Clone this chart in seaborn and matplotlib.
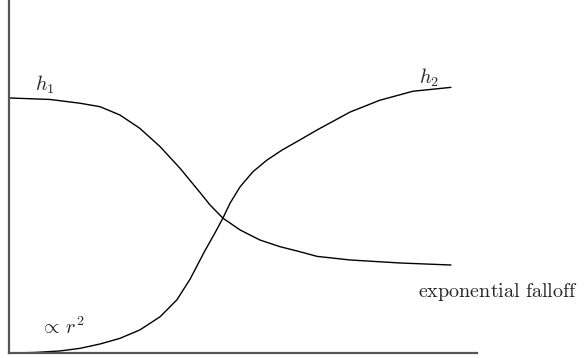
import numpy as np
import pandas as pd
import matplotlib
matplotlib.use("Agg")
import matplotlib.pyplot as plt
import seaborn as sns

# data
h1_x = [0, 0.93, 1.61, 2.06, 2.51, 2.96, 3.42, 3.87, 4.32, 4.55, 4.84, 5.23, 5.68, 6.13, 6.58,
        6.97, 7.72, 8.85, 10.0]
h1_y = [2.89, 2.873, 2.83, 2.791, 2.697, 2.546, 2.338, 2.093, 1.82, 1.677, 1.528, 1.394, 1.28,
        1.205, 1.148, 1.095, 1.054, 1.02, 0.997]
h2_x = [0, 0.59, 1.15, 1.61, 2.06, 2.51, 2.96, 3.42, 3.80, 4.10, 4.43, 4.66, 4.84, 5.0, 5.23,
        5.52, 5.84, 6.18, 6.58, 6.97, 7.72, 8.39, 9.14, 10.0]
h2_y = [0, 0.006, 0.023, 0.053, 0.102, 0.166, 0.261, 0.411, 0.603, 0.839, 1.156, 1.36, 1.528,
        1.696, 1.884, 2.054, 2.187, 2.30, 2.414, 2.527, 2.731, 2.864, 2.966, 3.01]

labels = [r"$h_1$", r"$h_2$", r"$\propto\, r^2$", r"$\mathrm{exponential\ falloff}$"]

sns.set_theme(style="white")
plt.rcParams["mathtext.fontset"] = "cm"

fig = plt.figure(figsize=(5.86, 3.58), dpi=100)
ax = fig.add_axes([9 / 586, 5 / 358, 468 / 586, 353 / 358])

df1 = pd.DataFrame({"x": h1_x, "y": h1_y})
df2 = pd.DataFrame({"x": h2_x, "y": h2_y})
sns.lineplot(data=df1, x="x", y="y", ax=ax, color="black", linewidth=1.0, sort=False,
             solid_joinstyle="round")
sns.lineplot(data=df2, x="x", y="y", ax=ax, color="black", linewidth=1.0, sort=False,
             solid_joinstyle="round")

ax.set_xlim(0, 10.59)
ax.set_ylim(0, 4.0)
ax.set_xticks([])
ax.set_yticks([])
ax.set_xlabel("")
ax.set_ylabel("")
for s in ["top", "right"]:
    ax.spines[s].set_visible(False)
for s in ["left", "bottom"]:
    ax.spines[s].set_color("#555555")
    ax.spines[s].set_linewidth(1.6)

fs = 14.5
ax.text(0.81, 3.04, labels[0], fontsize=fs, ha="center", va="center")
ax.text(9.50, 3.12, labels[1], fontsize=fs, ha="center", va="center")
ax.text(0.70, 0.29, labels[2], fontsize=fs, ha="left", va="center")
ax.text(9.25, 0.69, labels[3], fontsize=fs, ha="left", va="center", clip_on=False)

fig.savefig("out.png", dpi=100)
